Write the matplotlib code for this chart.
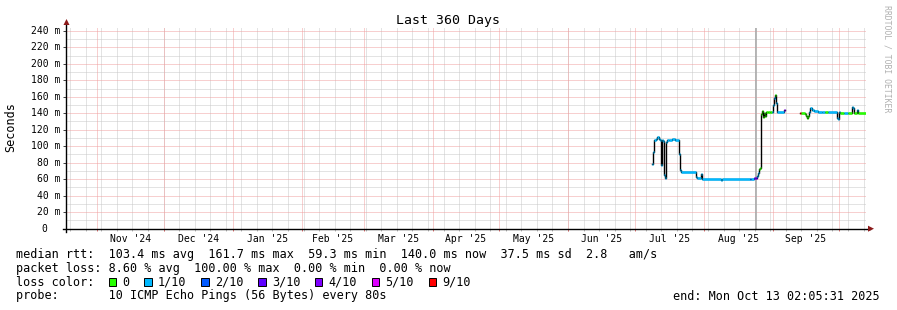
import matplotlib

matplotlib.use('Agg')
import matplotlib.pyplot as plt
import matplotlib.dates as mdates
from matplotlib.collections import LineCollection
from matplotlib.patches import Rectangle, Polygon
from matplotlib.transforms import offset_copy
import numpy as np
import pandas as pd

W, H = 897, 310
MONO = 'DejaVu Sans Mono'

END = pd.Timestamp("2025-10-13 02:05:31")
START = END - pd.Timedelta(days=360)

# median rtt as a step series: each value holds until the next time
rtt_times = [
    "2025-07-08 21:00", "2025-07-09 08:00", "2025-07-09 18:00", "2025-07-10 12:00",
    "2025-07-11 06:00", "2025-07-11 18:00", "2025-07-12 06:00", "2025-07-12 16:00",
    "2025-07-13 03:00", "2025-07-13 14:00", "2025-07-14 00:00", "2025-07-14 12:00",
    "2025-07-14 22:00", "2025-07-15 08:00", "2025-07-16 12:00", "2025-07-17 20:00",
    "2025-07-19 04:00", "2025-07-20 18:00", "2025-07-21 04:00", "2025-07-21 14:00",
    "2025-07-21 22:00", "2025-07-28 16:00", "2025-07-29 03:00", "2025-07-31 00:00",
    "2025-07-31 12:00", "2025-08-08 21:00", "2025-08-09 08:00", "2025-08-21 23:00",
    "2025-08-22 10:00", "2025-08-23 18:00", "2025-08-24 05:00", "2025-08-24 16:00",
    "2025-08-25 02:00", "2025-08-25 13:00", "2025-08-26 00:00", "2025-08-26 10:00",
    "2025-08-26 21:00", "2025-08-27 07:00", "2025-08-27 18:00", "2025-08-28 05:00",
    "2025-08-28 16:00", "2025-08-29 02:00", "2025-08-29 23:00", "2025-08-30 20:00",
    "2025-08-31 20:00", "2025-09-01 08:00", "2025-09-01 18:00", "2025-09-02 05:00",
    "2025-09-02 16:00", "2025-09-03 02:00", "2025-09-06 08:00", "2025-09-06 19:00",
    "2025-09-13 08:00", "2025-09-13 19:00", "2025-09-15 14:00", "2025-09-16 00:00",
    "2025-09-16 11:00", "2025-09-16 22:00", "2025-09-17 08:00", "2025-09-17 19:00",
    "2025-09-18 16:00", "2025-09-19 14:00", "2025-09-21 08:00", "2025-09-23 04:00",
    "2025-09-24 12:00", "2025-09-25 20:00", "2025-09-29 22:00", "2025-09-30 09:00",
    "2025-09-30 20:00", "2025-10-01 07:00", "2025-10-03 01:00", "2025-10-04 20:00",
    "2025-10-06 14:00", "2025-10-07 01:00", "2025-10-07 12:00", "2025-10-08 20:00",
    "2025-10-09 07:00",
]
rtt_ms = [
    78, 93, 107, 109,
    111, 109, 107, 77,
    107, 106, 65, 62,
    105, 108, 107, 109,
    108, 90, 74, 71,
    69, 63, 61, 66,
    60, 59, 60, 60,
    60, 61, 61, 62,
    64, 68, 72, 74,
    139, 143, 135, 140,
    137, 141, 142, 141,
    141, 150, 158, 162,
    153, 141, 144, np.nan,
    140, 140, 139, 137,
    134, 137, 141, 146,
    144, 143, 142, 141,
    141, 141, 134, 133,
    141, 140, 140, 140,
    147, 146, 140, 144,
    140,
]
# index into loss_labels
rtt_loss = [
    1, 1, 1, 1,
    1, 1, 1, 1,
    1, 1, 1, 1,
    1, 1, 1, 1,
    1, 1, 1, 1,
    1, 1, 1, 1,
    1, 1, 1, 2,
    1, 3, 4, 3,
    1, 1, 0, 0,
    0, 0, 0, 0,
    0, 0, 0, 0,
    1, 1, 1, 0,
    1, 1, 4, 0,
    6, 0, 0, 0,
    0, 0, 1, 1,
    1, 1, 1, 1,
    0, 1, 1, 1,
    1, 0, 1, 0,
    1, 1, 0, 1,
    0,
]

smoke_times = ["2025-08-24 14:00"]
smoke_low_ms = [0]
smoke_high_ms = [260]

loss_labels = ["0", "1/10", "2/10", "3/10", "4/10", "5/10", "9/10"]
loss_colors = ["#26ff00", "#00b8ff", "#0059ff", "#5e00ff", "#7e00ff", "#dd00ff", "#ff0000"]

y_ticks = [0, 20, 40, 60, 80, 100, 120, 140, 160, 180, 200, 220, 240]
y_labels = ["0", "20 m", "40 m", "60 m", "80 m", "100 m", "120 m", "140 m",
            "160 m", "180 m", "200 m", "220 m", "240 m"]

stats_lines = [
    "median rtt:  103.4 ms avg  161.7 ms max  59.3 ms min  140.0 ms now  37.5 ms sd  2.8   am/s",
    "packet loss: 8.60 % avg  100.00 % max  0.00 % min  0.00 % now",
]
probe_line = "probe:       10 ICMP Echo Pings (56 Bytes) every 80s"
end_line = "end: Mon Oct 13 02:05:31 2025"

MAJOR_GRID = "#f0a0a0"
MINOR_GRID = "#c8c8c8"
ARROW = "#8b1a1a"


def fx(px):
    return px / W


def fy(py):
    return 1 - py / H


fig = plt.figure(figsize=(W / 100, H / 100), dpi=100)
fig.patch.set_facecolor('white')

ax_left, ax_right, ax_bottom_px, ax_top_px = 66, 866, 228.7, 27.9
ax = fig.add_axes([fx(ax_left), fy(ax_bottom_px), (ax_right - ax_left) / W,
                   (ax_bottom_px - ax_top_px) / H])
ax.set_xlim(mdates.date2num(START), mdates.date2num(END))
ax.set_ylim(0, 243.5)
for s in ax.spines.values():
    s.set_visible(False)
ax.set_yticks([])

xform = ax.get_xaxis_transform()
yform = ax.get_yaxis_transform()

# grid: thin dotted lines, snapped to the pixel grid
weeks = pd.date_range(START, END, freq='W-SUN').normalize()
months = pd.date_range(START, END, freq='MS')
minor_y = [v for v in range(10, 241, 10) if v % 20]


def grid_line(line):
    line.set_snap(True)
    line.set_dashes((1, 1))
    line.set_linewidth(0.72)


for yv in minor_y:
    grid_line(ax.axhline(yv, color=MINOR_GRID, zorder=1))
for d in mdates.date2num(weeks):
    grid_line(ax.axvline(d, color=MINOR_GRID, zorder=1))
for yv in y_ticks[1:]:
    grid_line(ax.axhline(yv, color=MAJOR_GRID, zorder=2))
for d in mdates.date2num(months):
    grid_line(ax.axvline(d, color=MAJOR_GRID, zorder=2))

# small tick marks below the x axis
ax.vlines(mdates.date2num(weeks), -0.01, 0, transform=xform, colors="#bbbbbb", lw=0.72,
          clip_on=False)
ax.vlines(mdates.date2num(months), -0.012, 0, transform=xform, colors="#e07070", lw=0.72,
          clip_on=False)

# smoke spike
ax.vlines(mdates.date2num(pd.to_datetime(smoke_times)), smoke_low_ms, smoke_high_ms,
          colors="#aaaaaa", lw=1.2, zorder=3)

# median line: black steps, loss-coloured horizontals on top
t = mdates.date2num(pd.to_datetime(rtt_times))
v = np.array(rtt_ms, dtype=float)
t_ext = np.append(t, mdates.date2num(END))
v_ext = np.append(v, v[-1])
ax.step(t_ext, v_ext, where='post', color='black', lw=1.0, zorder=4)
segs, cols = [], []
for i in range(len(t)):
    if np.isnan(v[i]):
        continue
    segs.append([(t_ext[i], v[i]), (t_ext[i + 1], v[i])])
    cols.append(loss_colors[rtt_loss[i]])
ax.add_collection(LineCollection(segs, colors=cols, lw=1.8, capstyle='butt', zorder=5))

# axis lines and arrows
ax.plot([-3 / 800, 1 + 4 / 800], [0, 0], transform=ax.transAxes, color='black', lw=1,
        clip_on=False, zorder=6)
ax.plot([0, 0], [-3 / 201, 1 + 6 / 201], transform=ax.transAxes, color='black', lw=1,
        clip_on=False, zorder=6)
fig.add_artist(Polygon([(fx(868), fy(225.7)), (fx(874), fy(228.7)), (fx(868), fy(231.7))],
                       closed=True, transform=fig.transFigure, color=ARROW, lw=0))
fig.add_artist(Polygon([(fx(63.5), fy(25)), (fx(66.5), fy(19)), (fx(69.5), fy(25))],
                       closed=True, transform=fig.transFigure, color=ARROW, lw=0))

# y tick marks and labels
ax.hlines(y_ticks, -3 / 800, 0, transform=yform, colors='#444444', lw=0.72, clip_on=False)
lab_form = offset_copy(yform, fig=fig, x=-6, y=0, units='dots')
zero_form = offset_copy(yform, fig=fig, x=-19, y=0, units='dots')
for val, lab in zip(y_ticks, y_labels):
    ax.text(0, val, lab, transform=zero_form if val == 0 else lab_form, ha='right', va='center',
            family=MONO, fontsize=7, clip_on=False)

# month labels centred in each month
edges = pd.date_range(START - pd.offsets.MonthBegin(1), END + pd.offsets.MonthBegin(1), freq='MS')
mids = [a + (b - a) / 2 for a, b in zip(edges[:-1], edges[1:])]
mids = [m for m in mids if START <= m <= END]
ax.set_xticks(mdates.date2num(mids), [m.strftime("%b '%y") for m in mids])
ax.tick_params(axis='x', length=0, pad=3.6, labelsize=7, labelfontfamily=MONO)

# titles and labels
fig.text(fx(448), fy(24), "Last 360 Days", ha='center', va='baseline', family=MONO, fontsize=9.5)
fig.text(fx(11), fy(127), "Seconds", rotation=90, ha='center', va='center', family=MONO, fontsize=8.5)
fig.text(fx(887), fy(5), "RRDTOOL / TOBI OETIKER", rotation=270, ha='center', va='top',
         family=MONO, fontsize=5.9, color="#b0b0b0")

# legend block
cw = 7.107
x0 = 16
baselines = [258.3, 272.0, 285.7, 299.5]
for y, line in zip(baselines[:2], stats_lines):
    fig.text(fx(x0), fy(y), line, ha='left', va='baseline', family=MONO, fontsize=8.5)
fig.text(fx(x0), fy(baselines[2]), "loss color:", ha='left', va='baseline', family=MONO, fontsize=8.5)
cell = 13
for lab, col in zip(loss_labels, loss_colors):
    bx = x0 + cell * cw + 0.5
    fig.add_artist(Rectangle((fx(bx), fy(baselines[2] + 0.5)), 7.5 / W, 8 / H, transform=fig.transFigure,
                             facecolor=col, edgecolor='black', lw=0.7))
    fig.text(fx(x0 + (cell + 2) * cw), fy(baselines[2]), lab, ha='left', va='baseline',
             family=MONO, fontsize=8.5)
    cell += 2 + len(lab) + 2
fig.text(fx(x0), fy(baselines[3]), probe_line, ha='left', va='baseline', family=MONO, fontsize=8.5)
fig.text(fx(880), fy(baselines[3]), end_line, ha='right', va='baseline', family=MONO, fontsize=8.5)

fig.savefig('out.png', dpi=100)
plt.close(fig)
